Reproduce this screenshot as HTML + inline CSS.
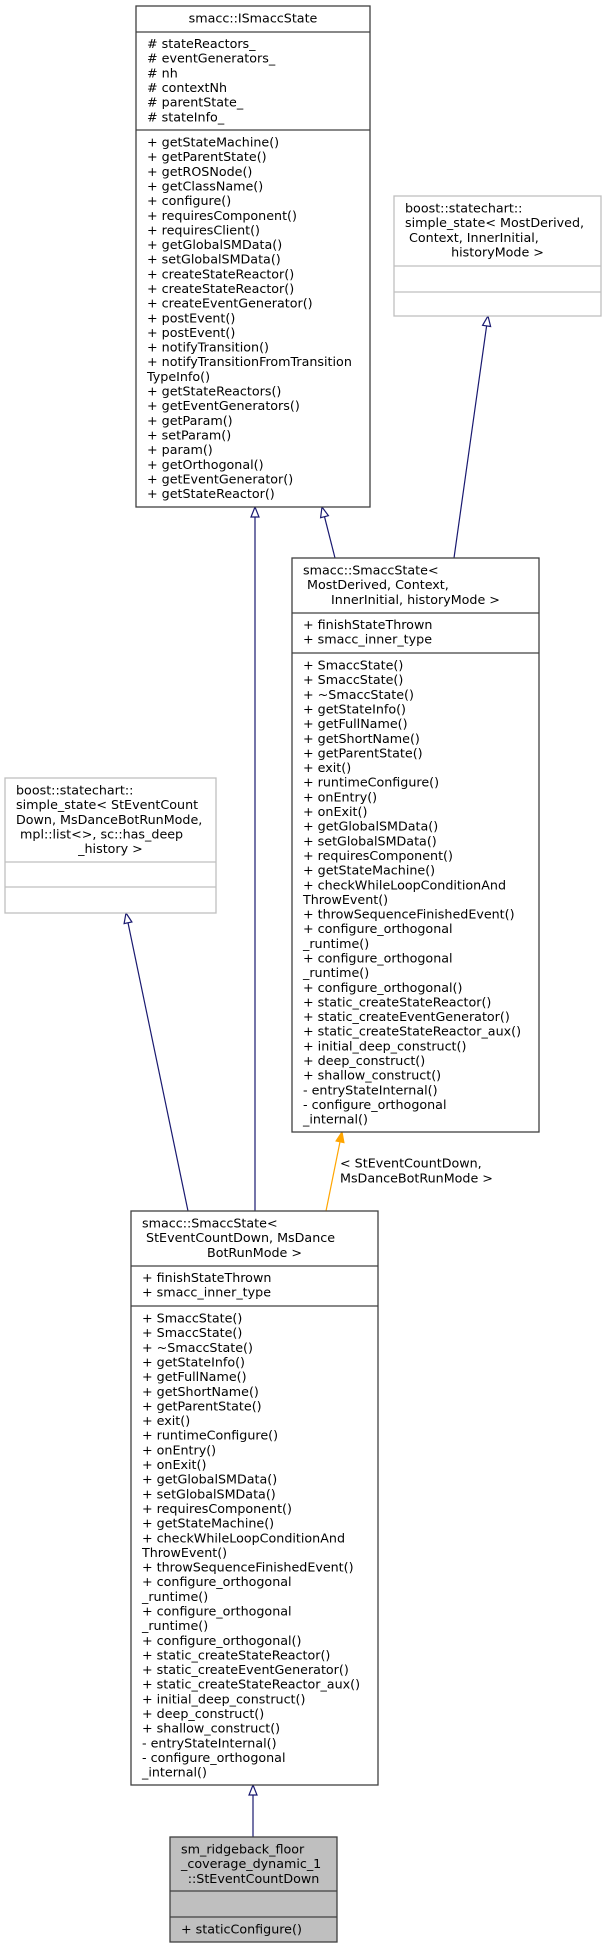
<!DOCTYPE html>
<html><head><meta charset="utf-8"><style>
html,body{margin:0;padding:0;background:#fff;}
svg{display:block;}
text{font-family:"DejaVu Sans","Liberation Sans",sans-serif;font-size:12.7px;fill:#000;}
</style></head><body>
<svg width="606" height="1948" viewBox="0 0 606 1948" xmlns="http://www.w3.org/2000/svg" xml:space="preserve">
<g stroke="#191970" stroke-width="1.2" fill="none">
<line x1="335" y1="558" x2="324.5" y2="516.7"/>
<line x1="255" y1="1211" x2="255" y2="517"/>
<line x1="454" y1="558" x2="486.6" y2="325.9"/>
<line x1="188" y1="1211" x2="128" y2="922.8"/>
<line x1="253" y1="1837" x2="253" y2="1795"/>
</g>
<g stroke="#191970" stroke-width="1.2" fill="#fff">
<polygon points="322,507 328.4,515.7 320.6,517.7"/>
<polygon points="255,507 251,517 259,517"/>
<polygon points="488,316 490.6,326.5 482.6,325.3"/>
<polygon points="126,913 131.9,922 124.1,923.6"/>
<polygon points="253,1785 249,1795 257,1795"/>
</g>
<line x1="326" y1="1211" x2="340" y2="1141.8" stroke="#ffa500" stroke-width="1.2"/>
<polygon points="342,1132 343.9,1142.6 336.1,1141" fill="#ffa500" stroke="#ffa500" stroke-width="1.2"/>
<text x="340" y="1167.5">&lt; StEventCountDown,</text>
<text x="340" y="1182.5">MsDanceBotRunMode &gt;</text>

<g stroke="#404040" stroke-width="1.3" fill="#fff">
<rect x="136" y="6" width="234" height="501"/>
<line x1="136" y1="32" x2="370" y2="32"/>
<line x1="136" y1="130" x2="370" y2="130"/>
</g>
<text x="253" y="22.5" text-anchor="middle">smacc::ISmaccState</text>
<text x="147" y="48"><tspan x="147" dy="0"># stateReactors_</tspan><tspan x="147" dy="14.65"># eventGenerators_</tspan><tspan x="147" dy="14.65"># nh</tspan><tspan x="147" dy="14.65"># contextNh</tspan><tspan x="147" dy="14.65"># parentState_</tspan><tspan x="147" dy="14.65"># stateInfo_</tspan></text>
<text x="147" y="146.5"><tspan x="147" dy="0">+ getStateMachine()</tspan><tspan x="147" dy="14.65">+ getParentState()</tspan><tspan x="147" dy="14.65">+ getROSNode()</tspan><tspan x="147" dy="14.65">+ getClassName()</tspan><tspan x="147" dy="14.65">+ configure()</tspan><tspan x="147" dy="14.65">+ requiresComponent()</tspan><tspan x="147" dy="14.65">+ requiresClient()</tspan><tspan x="147" dy="14.65">+ getGlobalSMData()</tspan><tspan x="147" dy="14.65">+ setGlobalSMData()</tspan><tspan x="147" dy="14.65">+ createStateReactor()</tspan><tspan x="147" dy="14.65">+ createStateReactor()</tspan><tspan x="147" dy="14.65">+ createEventGenerator()</tspan><tspan x="147" dy="14.65">+ postEvent()</tspan><tspan x="147" dy="14.65">+ postEvent()</tspan><tspan x="147" dy="14.65">+ notifyTransition()</tspan><tspan x="147" dy="14.65">+ notifyTransitionFromTransition</tspan><tspan x="147" dy="14.65">TypeInfo()</tspan><tspan x="147" dy="14.65">+ getStateReactors()</tspan><tspan x="147" dy="14.65">+ getEventGenerators()</tspan><tspan x="147" dy="14.65">+ getParam()</tspan><tspan x="147" dy="14.65">+ setParam()</tspan><tspan x="147" dy="14.65">+ param()</tspan><tspan x="147" dy="14.65">+ getOrthogonal()</tspan><tspan x="147" dy="14.65">+ getEventGenerator()</tspan><tspan x="147" dy="14.65">+ getStateReactor()</tspan></text>

<g stroke="#bfbfbf" stroke-width="1.3" fill="#fff">
<rect x="394" y="196" width="207" height="120"/>
<line x1="394" y1="266" x2="601" y2="266"/>
<line x1="394" y1="292" x2="601" y2="292"/>
</g>
<text x="405" y="212.5"><tspan x="405" dy="0">boost::statechart::</tspan><tspan x="405" dy="14.65">simple_state&lt; MostDerived,</tspan><tspan x="405" dy="14.65"> Context, InnerInitial,</tspan><tspan x="497.5" dy="14.65" text-anchor="middle">historyMode &gt;</tspan></text>

<g stroke="#bfbfbf" stroke-width="1.3" fill="#fff">
<rect x="5" y="778" width="211" height="135"/>
<line x1="5" y1="862" x2="216" y2="862"/>
<line x1="5" y1="887" x2="216" y2="887"/>
</g>
<text x="16" y="794.5"><tspan x="16" dy="0">boost::statechart::</tspan><tspan x="16" dy="14.65">simple_state&lt; StEventCount</tspan><tspan x="16" dy="14.65">Down, MsDanceBotRunMode,</tspan><tspan x="16" dy="14.65"> mpl::list&lt;&gt;, sc::has_deep</tspan><tspan x="110.5" dy="14.65" text-anchor="middle">_history &gt;</tspan></text>

<g stroke="#404040" stroke-width="1.3" fill="#fff">
<rect x="292" y="558" width="247" height="574"/>
<line x1="292" y1="613" x2="539" y2="613"/>
<line x1="292" y1="653" x2="539" y2="653"/>
</g>
<text x="303" y="574.5"><tspan x="303" dy="0">smacc::SmaccState&lt;</tspan><tspan x="303" dy="14.65"> MostDerived, Context,</tspan><tspan x="415.5" dy="14.65" text-anchor="middle">InnerInitial, historyMode &gt;</tspan></text>
<text x="303" y="629"><tspan x="303" dy="0">+ finishStateThrown</tspan><tspan x="303" dy="14.65">+ smacc_inner_type</tspan></text>
<text x="303" y="669.5"><tspan x="303" dy="0">+ SmaccState()</tspan><tspan x="303" dy="14.65">+ SmaccState()</tspan><tspan x="303" dy="14.65">+ ~SmaccState()</tspan><tspan x="303" dy="14.65">+ getStateInfo()</tspan><tspan x="303" dy="14.65">+ getFullName()</tspan><tspan x="303" dy="14.65">+ getShortName()</tspan><tspan x="303" dy="14.65">+ getParentState()</tspan><tspan x="303" dy="14.65">+ exit()</tspan><tspan x="303" dy="14.65">+ runtimeConfigure()</tspan><tspan x="303" dy="14.65">+ onEntry()</tspan><tspan x="303" dy="14.65">+ onExit()</tspan><tspan x="303" dy="14.65">+ getGlobalSMData()</tspan><tspan x="303" dy="14.65">+ setGlobalSMData()</tspan><tspan x="303" dy="14.65">+ requiresComponent()</tspan><tspan x="303" dy="14.65">+ getStateMachine()</tspan><tspan x="303" dy="14.65">+ checkWhileLoopConditionAnd</tspan><tspan x="303" dy="14.65">ThrowEvent()</tspan><tspan x="303" dy="14.65">+ throwSequenceFinishedEvent()</tspan><tspan x="303" dy="14.65">+ configure_orthogonal</tspan><tspan x="303" dy="14.65">_runtime()</tspan><tspan x="303" dy="14.65">+ configure_orthogonal</tspan><tspan x="303" dy="14.65">_runtime()</tspan><tspan x="303" dy="14.65">+ configure_orthogonal()</tspan><tspan x="303" dy="14.65">+ static_createStateReactor()</tspan><tspan x="303" dy="14.65">+ static_createEventGenerator()</tspan><tspan x="303" dy="14.65">+ static_createStateReactor_aux()</tspan><tspan x="303" dy="14.65">+ initial_deep_construct()</tspan><tspan x="303" dy="14.65">+ deep_construct()</tspan><tspan x="303" dy="14.65">+ shallow_construct()</tspan><tspan x="303" dy="14.65">- entryStateInternal()</tspan><tspan x="303" dy="14.65">- configure_orthogonal</tspan><tspan x="303" dy="14.65">_internal()</tspan></text>

<g stroke="#404040" stroke-width="1.3" fill="#fff">
<rect x="131" y="1211" width="247" height="574"/>
<line x1="131" y1="1266" x2="378" y2="1266"/>
<line x1="131" y1="1306" x2="378" y2="1306"/>
</g>
<text x="142" y="1227.5"><tspan x="142" dy="0">smacc::SmaccState&lt;</tspan><tspan x="142" dy="14.65"> StEventCountDown, MsDance</tspan><tspan x="254.5" dy="14.65" text-anchor="middle">BotRunMode &gt;</tspan></text>
<text x="142" y="1282"><tspan x="142" dy="0">+ finishStateThrown</tspan><tspan x="142" dy="14.65">+ smacc_inner_type</tspan></text>
<text x="142" y="1322.5"><tspan x="142" dy="0">+ SmaccState()</tspan><tspan x="142" dy="14.65">+ SmaccState()</tspan><tspan x="142" dy="14.65">+ ~SmaccState()</tspan><tspan x="142" dy="14.65">+ getStateInfo()</tspan><tspan x="142" dy="14.65">+ getFullName()</tspan><tspan x="142" dy="14.65">+ getShortName()</tspan><tspan x="142" dy="14.65">+ getParentState()</tspan><tspan x="142" dy="14.65">+ exit()</tspan><tspan x="142" dy="14.65">+ runtimeConfigure()</tspan><tspan x="142" dy="14.65">+ onEntry()</tspan><tspan x="142" dy="14.65">+ onExit()</tspan><tspan x="142" dy="14.65">+ getGlobalSMData()</tspan><tspan x="142" dy="14.65">+ setGlobalSMData()</tspan><tspan x="142" dy="14.65">+ requiresComponent()</tspan><tspan x="142" dy="14.65">+ getStateMachine()</tspan><tspan x="142" dy="14.65">+ checkWhileLoopConditionAnd</tspan><tspan x="142" dy="14.65">ThrowEvent()</tspan><tspan x="142" dy="14.65">+ throwSequenceFinishedEvent()</tspan><tspan x="142" dy="14.65">+ configure_orthogonal</tspan><tspan x="142" dy="14.65">_runtime()</tspan><tspan x="142" dy="14.65">+ configure_orthogonal</tspan><tspan x="142" dy="14.65">_runtime()</tspan><tspan x="142" dy="14.65">+ configure_orthogonal()</tspan><tspan x="142" dy="14.65">+ static_createStateReactor()</tspan><tspan x="142" dy="14.65">+ static_createEventGenerator()</tspan><tspan x="142" dy="14.65">+ static_createStateReactor_aux()</tspan><tspan x="142" dy="14.65">+ initial_deep_construct()</tspan><tspan x="142" dy="14.65">+ deep_construct()</tspan><tspan x="142" dy="14.65">+ shallow_construct()</tspan><tspan x="142" dy="14.65">- entryStateInternal()</tspan><tspan x="142" dy="14.65">- configure_orthogonal</tspan><tspan x="142" dy="14.65">_internal()</tspan></text>

<g stroke="#404040" stroke-width="1.3" fill="#bfbfbf">
<rect x="170" y="1837" width="167" height="105"/>
<line x1="170" y1="1891" x2="337" y2="1891"/>
<line x1="170" y1="1917" x2="337" y2="1917"/>
</g>
<text x="181" y="1853.5"><tspan x="181" dy="0">sm_ridgeback_floor</tspan><tspan x="181" dy="14.65">_coverage_dynamic_1</tspan><tspan x="253.5" dy="14.65" text-anchor="middle">::StEventCountDown</tspan></text>
<text x="181" y="1933.5">+ staticConfigure()</text>
</svg>
</body></html>
